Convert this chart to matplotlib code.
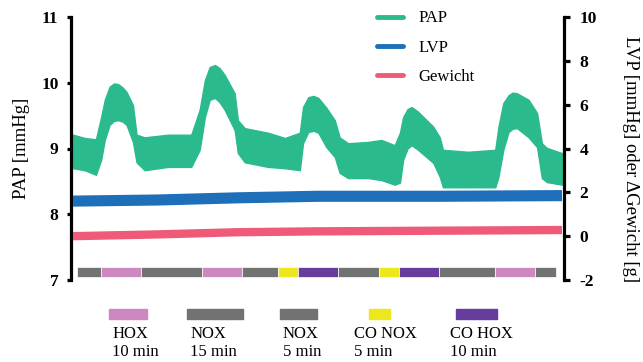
import numpy as np
import matplotlib
matplotlib.use('Agg')
import matplotlib.pyplot as plt
from matplotlib.lines import Line2D

plt.rcParams['font.family'] = 'serif'
plt.rcParams['font.serif'] = ['Liberation Serif', 'DejaVu Serif']
plt.rcParams['axes.unicode_minus'] = False

# time in min, PAP band (upper / lower envelope) in mmHg
pap_t = [-1.0, 1.9, 4.7, 6.0, 6.9, 8.1, 9.2, 10.2, 11.3, 12.3, 13.9, 14.8, 16.8, 22.6, 28.4,
         30.5, 31.8, 33.0, 34.3, 35.5, 36.7, 39.2, 40.0, 41.7, 47.5, 51.7, 55.4, 56.2,
         57.5, 58.8, 60.0, 62.0, 64.1, 65.3, 67.4, 72.4, 75.7, 79.0, 80.3, 81.1, 82.2,
         83.2, 84.8, 88.6, 90.2, 91.0, 97.3, 104.0, 104.8, 106.0, 107.3, 108.3, 109.4,
         112.3, 114.4, 115.6, 116.8, 120.6]
pap_hi = [9.21, 9.16, 9.14, 9.48, 9.74, 9.94, 9.99, 9.98, 9.93, 9.86, 9.66, 9.21, 9.17, 9.21, 9.21,
          9.59, 10.04, 10.24, 10.27, 10.22, 10.12, 9.84, 9.43, 9.31, 9.24, 9.16, 9.24, 9.63,
          9.78, 9.80, 9.77, 9.62, 9.43, 9.17, 9.08, 9.10, 9.13, 9.05, 9.24, 9.48, 9.60,
          9.63, 9.56, 9.33, 9.17, 8.98, 8.95, 8.98, 9.33, 9.69, 9.81, 9.85, 9.84,
          9.74, 9.54, 9.08, 9.01, 8.93]
pap_lo = [8.70, 8.67, 8.60, 8.83, 9.13, 9.36, 9.42, 9.43, 9.41, 9.36, 9.10, 8.79, 8.67, 8.72, 8.72,
          8.98, 9.48, 9.74, 9.77, 9.70, 9.59, 9.28, 8.93, 8.79, 8.72, 8.70, 8.67, 9.08,
          9.25, 9.27, 9.24, 9.02, 8.87, 8.63, 8.55, 8.55, 8.52, 8.45, 8.48, 8.83, 9.00,
          9.05, 8.98, 8.78, 8.57, 8.41, 8.41, 8.41, 8.57, 8.98, 9.25, 9.30, 9.31,
          9.17, 9.02, 8.55, 8.49, 8.45]

# LVP [mmHg] and delta weight [g], right axis
lvp_t = [-1.0, 20, 40, 60, 90, 120.6]
lvp = [1.60, 1.65, 1.75, 1.82, 1.82, 1.85]
gew_t = [-1.0, 20, 40, 60, 90, 120.6]
gew = [0.00, 0.08, 0.18, 0.22, 0.25, 0.28]

# protocol timeline
phase_min = [6, 10, 15, 10, 9, 5, 10, 10, 5, 10, 14, 10, 5]
phase_kind = ['NOX', 'HOX', 'NOX', 'HOX', 'NOX', 'CO NOX', 'CO HOX', 'NOX',
              'CO NOX', 'CO HOX', 'NOX', 'HOX', 'NOX']
kind_color = {'NOX': '#717272', 'HOX': '#cd89bf', 'CO NOX': '#ede81e',
              'CO HOX': '#663d9d'}

# key below the plot
key_labels = ['HOX\n10 min', 'NOX\n15 min', 'NOX\n5 min', 'CO NOX\n5 min', 'CO HOX\n10 min']
key_kind = ['HOX', 'NOX', 'NOX', 'CO NOX', 'CO HOX']
key_start = [8.0, 27.4, 50.5, 72.6, 94.3]
key_width = [9.5, 13.9, 9.2, 5.2, 10.2]
key_text_x = [8.7, 28.1, 51.2, 68.9, 92.8]

c_pap = '#2bba8e'
c_lvp = '#1c6fb8'
c_gew = '#ef5a78'

fig = plt.figure(figsize=(6.43, 3.62), dpi=100)
ax = fig.add_axes([71/643, 82/362, 493/643, 263/362])
ax2 = ax.twinx()

ax.fill_between(pap_t, pap_lo, pap_hi, color=c_pap, lw=1.0, edgecolor=c_pap)

starts = np.concatenate([[0], np.cumsum(phase_min)[:-1]])
ax.barh(7.125, phase_min, left=starts, height=0.15,
        color=[kind_color[k] for k in phase_kind], edgecolor='white', linewidth=0.5)

ax2.plot(lvp_t, lvp, color=c_lvp, lw=8, solid_capstyle='butt')
ax2.plot(gew_t, gew, color=c_gew, lw=6, solid_capstyle='butt')

ax.set_xlim(-1.5, 121.1)
ax.set_ylim(7, 11)
ax2.set_ylim(-2, 10)
ax.set_yticks([7, 8, 9, 10, 11])
ax2.set_yticks([-2, 0, 2, 4, 6, 8, 10])

for a in (ax, ax2):
    for s in ['top', 'bottom']:
        a.spines[s].set_visible(False)
    a.tick_params(axis='x', bottom=False, labelbottom=False)
    for lab in a.get_yticklabels():
        lab.set_fontweight('bold')
ax.spines['right'].set_visible(False)
ax2.spines['left'].set_visible(False)
ax.spines['left'].set_linewidth(2.3)
ax2.spines['right'].set_linewidth(2.3)
ax.tick_params(axis='y', length=3, width=2.3, labelsize=12.5, pad=6)
ax2.tick_params(axis='y', length=4, width=2.3, labelsize=12.5, pad=7)

ax.set_ylabel('PAP [mmHg]', fontsize=13.5, va='center', ha='center')
ax.yaxis.set_label_coords(-0.100, 0.5)
ax2.set_ylabel('LVP [mmHg] oder ΔGewicht [g]', fontsize=13.5, rotation=270,
               va='center', ha='center')
ax2.yaxis.set_label_coords(1.134, 0.46)

handles = [Line2D([], [], color=c, lw=3.5, solid_capstyle='round') for c in (c_pap, c_lvp, c_gew)]
ax2.legend(handles, ['PAP', 'LVP', 'Gewicht'], loc='upper left', bbox_to_anchor=(0.62, 1.025),
           frameon=False, fontsize=12, handlelength=1.6, handletextpad=0.9,
           labelspacing=0.8, borderaxespad=0, borderpad=0)

for lab, k, x0, w, tx in zip(key_labels, key_kind, key_start, key_width, key_text_x):
    ax.add_patch(plt.Rectangle((x0, 6.41), w, 0.15, color=kind_color[k], clip_on=False))
    ax.text(tx, 6.30, lab, fontsize=12, ha='left', va='top', linespacing=1.2, clip_on=False)

fig.savefig('out.png', dpi=100)
